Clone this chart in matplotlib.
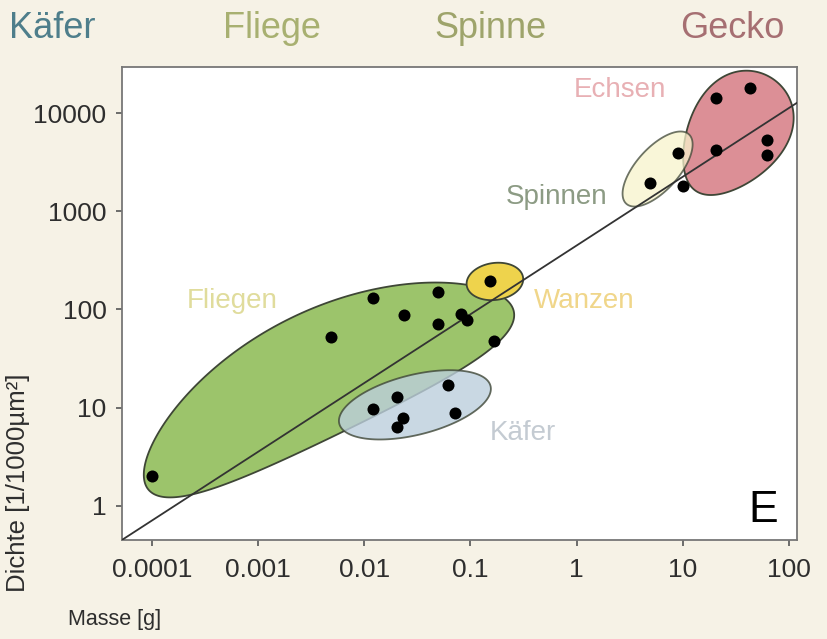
import numpy as np
import matplotlib
matplotlib.use("Agg")
import matplotlib.pyplot as plt

plt.rcParams['font.family'] = ['Liberation Sans', 'DejaVu Sans']

# Messwerte: Masse [g] und Haftelement-Dichte [1/1000 µm²]
fliegen_m = [0.0001, 0.0049, 0.012, 0.0236, 0.05, 0.05, 0.081, 0.092, 0.166]
fliegen_d = [2.0, 53, 131, 88, 151, 71, 90, 78, 48]
wanzen_m = [0.153]
wanzen_d = [195]
kaefer_m = [0.0122, 0.0202, 0.023, 0.0202, 0.061, 0.0713]
kaefer_d = [9.8, 12.8, 7.8, 6.4, 17.1, 8.8]
spinnen_m = [4.94, 9.0]
spinnen_d = [1950, 3950]
echsen_m = [10.0, 20.4, 43.2, 20.4, 61.8, 61.8]
echsen_d = [1810, 14300, 17800, 4210, 5310, 3740]

# Regressionsgerade d = k * m^b
fit_k = 448.0
fit_b = 0.70

xticks = [0.0001, 0.001, 0.01, 0.1, 1, 10, 100]
xticklabels = ['0.0001', '0.001', '0.01', '0.1', '1', '10', '100']
yticks = [1, 10, 100, 1000, 10000]
yticklabels = ['1', '10', '100', '1000', '10000']

bg = '#f6f2e6'
fig = plt.figure(figsize=(8.27, 6.39), dpi=100, facecolor=bg)
ax = fig.add_axes([0.1472, 0.1549, 0.8165, 0.7402])
ax.set_xscale('log')
ax.set_yscale('log')
xmin, xmax = 5.2e-5, 119
ymin, ymax = 0.45, 29400
ax.set_xlim(xmin, xmax)
ax.set_ylim(ymin, ymax)

# Verhaeltnis Pixel pro Dekade (y zu x), damit die Ellipsen nicht verzerrt werden
r = 98.3 / 106.3


def blob(mx, dy, a, b, ang, bend=0.0, egg=0.0):
    # Ellipse im log-Raum, optional gebogen (bend) oder eifoermig (egg)
    t = np.linspace(0, 2 * np.pi, 300)
    ang = np.radians(ang)
    p = a * np.cos(t)
    q = b * np.sin(t) * (1 + egg * np.cos(t)) + bend * np.sin(t) ** 2
    u = p * np.cos(ang) - q * np.sin(ang)
    w = p * np.sin(ang) + q * np.cos(ang)
    return 10 ** (np.log10(mx) + u), 10 ** (np.log10(dy) + w / r)


edge = '#3e4636'
# Gruppen-Umrisse
x, y = blob(0.00468, 12.97, 1.919, 0.588, 26, bend=0.235)
ax.fill(x, y, facecolor='#9cc46b', edgecolor=edge, lw=1.3, zorder=2)
x, y = blob(0.030, 10.7, 0.734, 0.282, 14)
ax.fill(x, y, facecolor='#bccfdc', alpha=0.8, edgecolor=edge, lw=1.3, zorder=3)
x, y = blob(0.170, 193, 0.268, 0.174, 8)
ax.fill(x, y, facecolor='#eed34c', edgecolor=edge, lw=1.3, zorder=3)
x, y = blob(30.7, 5975, 0.64, 0.45, 55, egg=0.2)
ax.fill(x, y, facecolor='#dc8f96', edgecolor=edge, lw=1.3, zorder=2)
x, y = blob(5.79, 2692, 0.44, 0.2, 48)
ax.fill(x, y, facecolor='#f8f3cc', alpha=0.75, edgecolor=edge, lw=1.3, zorder=3)

# Regressionsgerade
lx = np.array([xmin, xmax])
ax.plot(lx, fit_k * lx ** fit_b, color='#333333', lw=1.3, zorder=4)

for m, d in [(fliegen_m, fliegen_d), (wanzen_m, wanzen_d), (kaefer_m, kaefer_d),
             (spinnen_m, spinnen_d), (echsen_m, echsen_d)]:
    ax.scatter(m, d, s=75, color='black', zorder=5, linewidths=0)

ax.text(0.00057, 122, 'Fliegen', color='#e0dc9c', fontsize=20, ha='center', va='center')
ax.text(1.19, 122, 'Wanzen', color='#f0d68a', fontsize=20, ha='center', va='center')
ax.text(0.311, 5.56, 'Käfer', color='#c4cbd2', fontsize=20, ha='center', va='center')
ax.text(0.65, 1397, 'Spinnen', color='#8c9b84', fontsize=20, ha='center', va='center')
ax.text(2.54, 17140, 'Echsen', color='#e8b0b4', fontsize=20, ha='center', va='center')
ax.text(0.972, 0.038, 'E', transform=ax.transAxes, fontsize=32, ha='right', va='baseline')

ax.set_xticks(xticks)
ax.set_xticklabels(xticklabels)
ax.set_yticks(yticks)
ax.set_yticklabels(yticklabels)
ax.minorticks_off()
ax.tick_params(axis='both', length=4, width=1.2, color='#555555', labelsize=19,
               labelcolor='#2e2e2e')
ax.tick_params(axis='x', pad=9)
ax.tick_params(axis='y', pad=7)
for s in ax.spines.values():
    s.set_color('#777777')
    s.set_linewidth(1.3)

fig.text(18 / 827, 1 - 592 / 639, 'Dichte [1/1000µm²]', rotation=90, fontsize=18.5,
         color='#2e2e2e', ha='center', va='bottom')
fig.text(68 / 827, 1 - 620 / 639, 'Masse [g]', fontsize=15.5, color='#2e2e2e',
         ha='left', va='center')

# Ueberschriften oben
for xp, txt, col in [(52, 'Käfer', '#4e7e8b'), (272, 'Fliege', '#a8b071'),
                     (490, 'Spinne', '#9ea46b'), (732, 'Gecko', '#a66f72')]:
    fig.text(xp / 827, 1 - 28 / 639, txt, fontsize=26, color=col, ha='center', va='center')

fig.savefig('out.png', dpi=100, facecolor=bg)
